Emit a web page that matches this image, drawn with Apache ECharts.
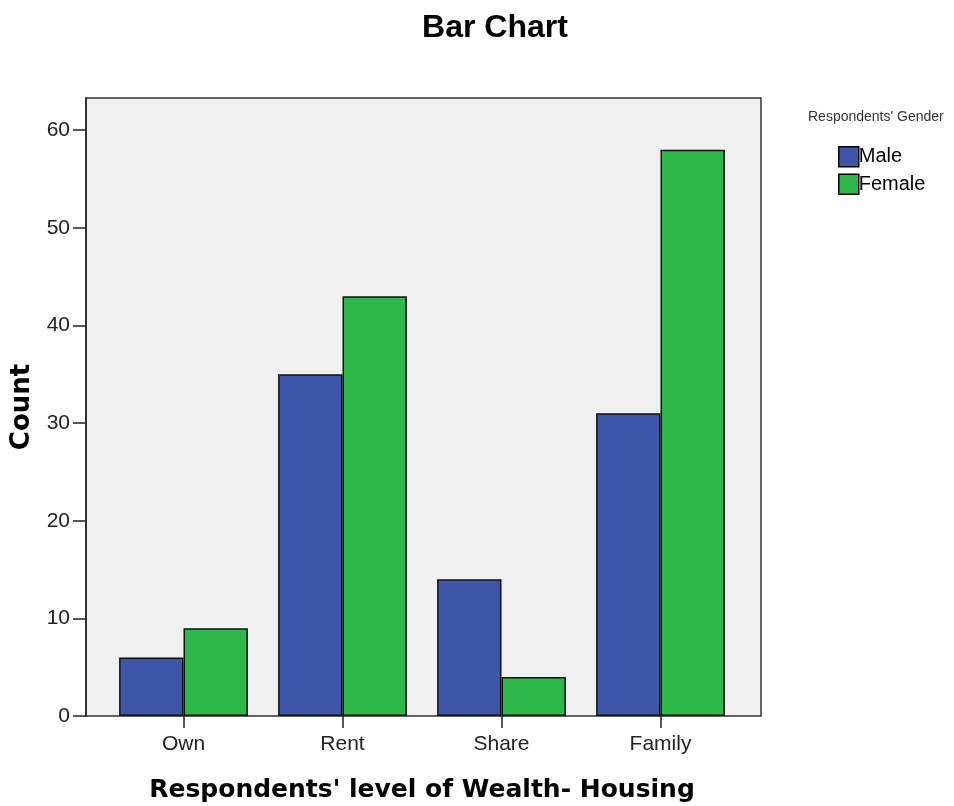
<!DOCTYPE html>
<html>
<head>
<meta charset="utf-8">
<script src="https://cdn.jsdelivr.net/npm/echarts@6/dist/echarts.min.js"></script>
<style>html,body{margin:0;padding:0;background:#fff}#c{width:954px;height:806px}</style>
</head>
<body>
<div id="c"></div>
<script>
var categories = ['Own', 'Rent', 'Share', 'Family'];
var maleValues = [6, 35, 14, 31];
var femaleValues = [9, 43, 4, 58];
var seriesNames = ['Male', 'Female'];

var FONT = '"Liberation Sans", Arial, sans-serif';
var BOLDFONT = '"DejaVu Sans", sans-serif';
var chart = echarts.init(document.getElementById('c'));
chart.setOption({
  animation: false,
  backgroundColor: '#ffffff',
  title: {
    text: 'Bar Chart', left: 490, top: 7, textAlign: 'center',
    textStyle: {fontFamily: FONT, fontSize: 32, fontWeight: 'bold', color: '#000'}
  },
  graphic: [{
    type: 'text', left: 808, top: 110,
    style: {text: "Respondents' Gender", fontFamily: FONT, fontSize: 14, fill: '#333'}
  }],
  legend: {
    orient: 'vertical', left: 833, top: 141, itemGap: 6,
    itemWidth: 20, itemHeight: 20, icon: 'rect',
    itemStyle: {borderColor: '#000', borderWidth: 1.5},
    textStyle: {fontFamily: FONT, fontSize: 20, color: '#000', padding: [0, 0, 0, -5]},
    data: seriesNames
  },
  grid: [
    {left: 86, top: 98, width: 675, height: 618, show: true, backgroundColor: '#f0f0f0', borderColor: '#333', borderWidth: 1.5, outerBoundsMode: 'none', containLabel: false},
    {left: 104, top: 98, width: 636, height: 618, outerBoundsMode: 'none', containLabel: false}
  ],
  xAxis: [
    {type: 'category', gridIndex: 0, data: categories, show: false},
    {type: 'category', gridIndex: 1, data: categories,
     axisLine: {show: false},
     axisTick: {show: true, alignWithLabel: true, length: 12, lineStyle: {color: '#222', width: 1.5}},
     axisLabel: {fontFamily: FONT, fontSize: 21, color: '#222', margin: 18},
     name: "Respondents' level of Wealth- Housing", nameLocation: 'middle', nameGap: 62,
     nameTextStyle: {fontFamily: BOLDFONT, fontSize: 25, fontWeight: 'bold', color: '#000'}
    }
  ],
  yAxis: [
    {type: 'value', gridIndex: 0, min: 0, max: 63.3, interval: 10,
     axisLine: {show: true, lineStyle: {color: '#222', width: 1.5}},
     axisTick: {show: true, length: 13, lineStyle: {color: '#222', width: 1.5}},
     axisLabel: {fontFamily: FONT, fontSize: 21, color: '#222', margin: 16, showMaxLabel: false},
     splitLine: {show: false},
     name: 'Count', nameLocation: 'middle', nameGap: 50,
     nameTextStyle: {fontFamily: BOLDFONT, fontSize: 26, fontWeight: 'bold', color: '#000'}
    },
    {type: 'value', gridIndex: 1, min: 0, max: 63.3, show: false, splitLine: {show: false}}
  ],
  series: [
    {name: seriesNames[0], type: 'bar', xAxisIndex: 1, yAxisIndex: 1, data: maleValues,
     barGap: '0%', barCategoryGap: '19%',
     itemStyle: {color: '#3d56a8', borderColor: '#111', borderWidth: 1.5}},
    {name: seriesNames[1], type: 'bar', xAxisIndex: 1, yAxisIndex: 1, data: femaleValues,
     barGap: '0%', barCategoryGap: '19%',
     itemStyle: {color: '#2fb84a', borderColor: '#111', borderWidth: 1.5}}
  ]
});
</script>
</body>
</html>
